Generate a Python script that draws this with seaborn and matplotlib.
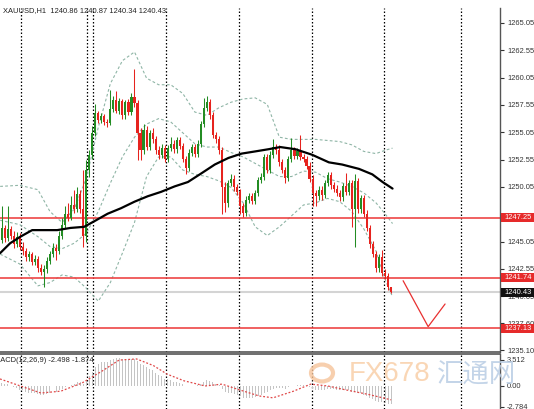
import numpy as np
import pandas as pd
import matplotlib
matplotlib.use("Agg")
import matplotlib.pyplot as plt
from matplotlib import font_manager as fm
from matplotlib.patches import Rectangle, Circle
import seaborn as sns

# XAUUSD H1 bars (oldest first)
opens = [1245.2, 1246.3, 1245.4, 1246.2, 1245.6, 1244.8, 1245.5, 1244.6, 1244.2, 1243.6,
         1243.9, 1243.2, 1243.5, 1242.6, 1242.3, 1242.5, 1243.3, 1243.9, 1244.5, 1244.2,
         1245.6, 1246.6, 1247.6, 1247.2, 1248.4, 1248.0, 1249.4, 1248.0, 1245.6, 1251.6,
         1253.0, 1255.0, 1256.8, 1256.2, 1256.5, 1256.0, 1255.9, 1257.2, 1258.0, 1257.0,
         1257.9, 1256.6, 1257.8, 1256.9, 1258.3, 1257.7, 1255.0, 1253.4, 1255.3, 1253.7,
         1255.0, 1254.4, 1253.4, 1253.0, 1253.6, 1252.6, 1253.6, 1254.0, 1253.5, 1254.3,
         1253.8, 1252.6, 1251.8, 1253.2, 1253.7, 1253.1, 1254.0, 1255.8, 1257.3, 1257.8,
         1256.6, 1254.8, 1254.4, 1253.4, 1250.0, 1248.6, 1250.4, 1250.8, 1250.0, 1249.6,
         1248.3, 1247.7, 1248.9, 1249.2, 1248.8, 1249.5, 1250.7, 1251.0, 1252.8, 1251.6,
         1253.0, 1253.7, 1253.4, 1252.3, 1251.6, 1250.9, 1252.6, 1253.4, 1252.9, 1253.3,
         1252.8, 1252.6, 1252.0, 1250.8, 1249.5, 1249.2, 1249.8, 1249.3, 1250.4, 1251.1,
         1250.2, 1249.9, 1249.5, 1249.1, 1250.1, 1249.6, 1250.4, 1248.0, 1250.6, 1248.0,
         1249.0, 1247.6, 1246.3, 1244.8, 1243.9, 1242.6, 1243.6, 1242.2, 1241.9, 1240.86]
highs = [1248.3, 1246.6, 1248.3, 1246.5, 1246.0, 1245.9, 1245.8, 1245.0, 1244.5, 1244.2,
         1244.1, 1243.8, 1243.7, 1243.0, 1242.9, 1243.6, 1244.2, 1244.9, 1244.8, 1246.0,
         1247.2, 1248.3, 1248.6, 1249.2, 1249.8, 1250.0, 1249.8, 1251.6, 1252.5, 1253.4,
         1255.6, 1257.6, 1257.0, 1256.8, 1256.7, 1256.3, 1258.9, 1258.4, 1258.8, 1258.2,
         1258.1, 1258.0, 1258.1, 1258.6, 1260.8, 1258.0, 1255.4, 1255.8, 1255.6, 1255.3,
         1255.4, 1254.7, 1253.8, 1254.0, 1253.9, 1253.9, 1254.6, 1254.3, 1254.6, 1254.6,
         1254.1, 1252.9, 1253.5, 1254.0, 1254.0, 1254.3, 1256.1, 1258.2, 1258.4, 1258.1,
         1256.9, 1255.1, 1254.7, 1253.7, 1250.5, 1250.7, 1251.2, 1251.1, 1250.3, 1249.9,
         1248.6, 1249.2, 1249.5, 1249.5, 1249.8, 1251.0, 1251.3, 1253.1, 1253.1, 1253.3,
         1254.4, 1254.0, 1253.9, 1252.6, 1251.9, 1252.9, 1254.5, 1253.7, 1253.6, 1254.8,
         1253.1, 1252.9, 1252.3, 1251.1, 1249.8, 1250.1, 1250.1, 1250.7, 1251.4, 1251.4,
         1250.5, 1250.2, 1249.8, 1250.4, 1251.3, 1250.7, 1250.7, 1251.2, 1250.9, 1249.3,
         1249.3, 1247.9, 1246.6, 1245.1, 1244.2, 1243.9, 1244.3, 1242.5, 1242.2, 1240.87]
lows = [1244.9, 1245.0, 1245.1, 1245.3, 1244.5, 1244.6, 1244.3, 1243.8, 1243.3, 1243.3,
        1242.9, 1242.9, 1242.3, 1242.0, 1240.9, 1242.2, 1243.0, 1243.6, 1243.4, 1243.9,
        1245.3, 1246.3, 1246.9, 1247.0, 1247.7, 1247.8, 1247.7, 1244.6, 1245.0, 1251.0,
        1252.6, 1254.7, 1255.9, 1255.9, 1255.7, 1255.5, 1255.7, 1256.9, 1256.8, 1256.7,
        1256.3, 1256.3, 1256.6, 1256.6, 1257.4, 1252.5, 1252.5, 1253.1, 1253.4, 1253.4,
        1254.1, 1253.1, 1252.6, 1252.7, 1252.3, 1252.3, 1253.3, 1253.2, 1253.2, 1253.5,
        1252.3, 1251.2, 1251.5, 1252.9, 1252.8, 1252.8, 1253.7, 1255.5, 1257.0, 1256.3,
        1254.5, 1254.1, 1253.1, 1247.6, 1247.8, 1248.2, 1250.1, 1249.7, 1249.3, 1247.6,
        1247.3, 1247.4, 1248.6, 1248.5, 1248.5, 1249.2, 1250.4, 1250.7, 1251.3, 1251.3,
        1252.7, 1253.1, 1252.0, 1251.3, 1250.4, 1250.6, 1252.3, 1252.6, 1252.6, 1252.5,
        1252.3, 1251.7, 1250.5, 1248.3, 1248.3, 1248.9, 1248.9, 1249.0, 1250.1, 1249.9,
        1249.6, 1249.2, 1248.8, 1248.8, 1249.3, 1249.3, 1246.4, 1244.6, 1247.7, 1247.7,
        1247.3, 1246.0, 1244.5, 1243.6, 1242.3, 1242.3, 1241.9, 1241.6, 1240.6, 1240.34]
closes = [1246.3, 1245.4, 1246.2, 1245.6, 1244.8, 1245.5, 1244.6, 1244.2, 1243.6, 1243.9,
          1243.2, 1243.5, 1242.6, 1242.3, 1242.5, 1243.3, 1243.9, 1244.5, 1244.2, 1245.6,
          1246.6, 1247.6, 1247.2, 1248.4, 1248.0, 1249.4, 1248.0, 1245.6, 1251.6, 1253.0,
          1255.0, 1256.8, 1256.2, 1256.5, 1256.0, 1255.9, 1257.2, 1258.0, 1257.0, 1257.9,
          1256.6, 1257.8, 1256.9, 1258.3, 1257.7, 1255.0, 1253.4, 1255.3, 1253.7, 1255.0,
          1254.4, 1253.4, 1253.0, 1253.6, 1252.6, 1253.6, 1254.0, 1253.5, 1254.3, 1253.8,
          1252.6, 1251.8, 1253.2, 1253.7, 1253.1, 1254.0, 1255.8, 1257.3, 1257.8, 1256.6,
          1254.8, 1254.4, 1253.4, 1250.0, 1248.6, 1250.4, 1250.8, 1250.0, 1249.6, 1248.3,
          1247.7, 1248.9, 1249.2, 1248.8, 1249.5, 1250.7, 1251.0, 1252.8, 1251.6, 1253.0,
          1253.7, 1253.4, 1252.3, 1251.6, 1250.9, 1252.6, 1253.4, 1252.9, 1253.3, 1252.8,
          1252.6, 1252.0, 1250.8, 1249.5, 1249.2, 1249.8, 1249.3, 1250.4, 1251.1, 1250.2,
          1249.9, 1249.5, 1249.1, 1250.1, 1249.6, 1250.4, 1248.0, 1250.6, 1248.0, 1249.0,
          1247.6, 1246.3, 1244.8, 1243.9, 1242.6, 1243.6, 1242.2, 1241.9, 1240.9, 1240.43]

# moving average (black line), sampled along the chart
ma_x = [-0.5, 2.8, 6.2, 10.1, 13.9, 18.4, 22.8, 27.3, 30.6, 35.1, 39.5, 44.0, 48.4, 52.8,
        57.3, 61.7, 66.2, 70.6, 75.1, 79.5, 84.0, 88.4, 92.3, 97.3, 102.8, 108.4, 112.8,
        118.4, 122.8, 126.2, 129.5]
ma_y = [1244.0, 1244.9, 1245.5, 1246.1, 1246.1, 1246.1, 1246.3, 1246.4, 1246.9, 1247.6,
        1248.1, 1248.7, 1249.2, 1249.6, 1250.1, 1250.5, 1251.3, 1252.1, 1252.7, 1253.1,
        1253.3, 1253.5, 1253.7, 1253.5, 1253.0, 1252.3, 1252.1, 1251.7, 1251.2, 1250.5, 1249.9]

# Bollinger bands, sampled
bb_x = [-0.5, 6, 12, 16, 20, 24, 28, 32, 36, 40, 44, 48, 52, 56, 60, 64, 68, 72, 76, 80,
        84, 88, 92, 96, 100, 104, 108, 112, 116, 120, 124, 127, 129.5]
bb_upper = [1250.1, 1250.2, 1249.8, 1247.8, 1246.8, 1248.0, 1250.8, 1255.5, 1259.5, 1261.6,
            1262.4, 1260.0, 1259.4, 1259.4, 1258.6, 1256.9, 1256.6, 1257.3, 1257.8, 1258.1,
            1258.2, 1257.6, 1254.6, 1254.4, 1254.4, 1254.4, 1254.3, 1254.2, 1253.9, 1253.3,
            1253.1, 1253.4, 1253.6]
bb_mid = [1247.0, 1246.6, 1245.5, 1244.6, 1244.4, 1244.9, 1245.8, 1247.8, 1250.4, 1252.8,
          1254.6, 1255.8, 1256.3, 1256.0, 1255.0, 1254.0, 1253.7, 1253.7, 1253.2, 1252.8,
          1252.2, 1251.6, 1251.0, 1251.0, 1251.5, 1251.4, 1250.8, 1250.5, 1250.1, 1249.5,
          1248.6, 1247.6, 1246.7]
bb_lower = [1243.9, 1243.0, 1241.0, 1241.3, 1242.0, 1241.8, 1240.8, 1239.6, 1241.3, 1244.0,
            1246.8, 1251.0, 1252.8, 1252.8, 1251.6, 1251.2, 1251.0, 1250.6, 1250.0, 1248.6,
            1246.4, 1245.6, 1246.4, 1247.4, 1248.4, 1248.6, 1249.0, 1248.7, 1247.8, 1246.2,
            1244.2, 1241.6, 1240.0]

levels = [1247.25, 1241.74, 1237.13]
last_price = 1240.43
separators = [6.4, 28.3, 30.3, 54.4, 78.6, 102.8, 126.7, 152.2]
price_ticks = [1265.05, 1262.55, 1260.05, 1257.55, 1255.05, 1252.55, 1250.05,
               1245.05, 1242.55, 1240.05, 1237.60, 1235.10]
path_x = [133.0, 141.3, 146.9]
path_y = [1241.47, 1237.27, 1239.34]

# MACD(12,26,9): main histogram per bar, signal sampled
macd_main = [0.4, 0.3, 0.2, 0.0, -0.2, -0.3, -0.5, -0.6, -0.8, -0.9,
             -1.0, -1.0, -1.1, -1.2, -1.2, -1.1, -1.0, -0.9, -0.8, -0.6,
             -0.4, -0.2, 0.0, 0.1, 0.3, 0.5, 0.5, 0.3, 0.8, 1.3,
             1.9, 2.6, 3.0, 3.2, 3.3, 3.3, 3.5, 3.7, 3.8, 3.8,
             3.7, 3.7, 3.6, 3.7, 3.7, 3.4, 3.0, 2.8, 2.5, 2.3,
             2.1, 1.8, 1.5, 1.3, 1.0, 0.9, 0.8, 0.6, 0.5, 0.4,
             0.2, 0.0, 0.0, 0.0, 0.0, 0.1, 0.3, 0.6, 0.8, 0.7,
             0.5, 0.3, 0.1, -0.4, -0.8, -0.9, -1.0, -1.1, -1.2, -1.4,
             -1.6, -1.6, -1.6, -1.6, -1.5, -1.3, -1.2, -0.9, -0.8, -0.6,
             -0.4, -0.3, -0.3, -0.3, -0.4, -0.2, 0.0, 0.0, 0.1, 0.1,
             0.1, 0.0, -0.2, -0.4, -0.5, -0.6, -0.6, -0.5, -0.4, -0.4,
             -0.4, -0.5, -0.6, -0.6, -0.6, -0.6, -0.8, -0.8, -0.9, -1.0,
             -1.2, -1.4, -1.6, -1.8, -2.0, -2.1, -2.2, -2.3, -2.4, -2.5]
sig_x = [-0.56, 6.2, 13.0, 19.6, 26.6, 33.2, 38.9, 44.7, 50.3, 54.8, 60.4, 67.4, 73.0,
         78.6, 85.3, 89.9, 96.7, 102.4, 108.0, 113.7, 121.6, 129.0]
sig_y = [0.95, 0.0, -0.95, -0.7, 0.4, 2.0, 3.5, 3.65, 2.75, 1.6, 0.7, 0.0, 0.25,
         -0.5, -1.35, -1.6, -0.7, 0.25, 0.0, -0.5, -1.15, -1.87]

W, H = 534, 409
bull, bear = "#238c23", "#e6231e"
band_col = "#8fb5a6"

sns.set_style("white")
avail = {f.name for f in fm.fontManager.ttflist}
if "Liberation Sans Narrow" in avail:
    ui_font, fs, big = "Liberation Sans Narrow", 6.2, 22
else:
    ui_font, fs, big = "Liberation Sans", 5.4, 20
plt.rcParams["font.family"] = [ui_font, "DejaVu Sans"]

fig = plt.figure(figsize=(W / 100, H / 100), dpi=100)
ax = fig.add_axes([0, 1 - 352 / H, 500 / W, (352 - 8) / H])
ax2 = fig.add_axes([0, 0, 500 / W, (409 - 354) / H])

df = pd.DataFrame({"open": opens, "high": highs, "low": lows, "close": closes})
df["bar"] = np.arange(len(df))
cols = np.where(df["close"] >= df["open"], bull, bear)

ax.vlines(df["bar"], df["low"], df["high"], colors=cols, lw=0.75, zorder=3)
body = (df["close"] - df["open"]).abs().clip(lower=0.08)
ax.bar(df["bar"], body, bottom=df[["open", "close"]].min(axis=1), width=0.7,
       color=cols, linewidth=0, zorder=3)

for band in (bb_upper, bb_mid, bb_lower):
    sns.lineplot(x=bb_x, y=band, ax=ax, color=band_col, lw=0.8,
                 linestyle=(0, (2.5, 2)), zorder=2)
sns.lineplot(x=ma_x, y=ma_y, ax=ax, color="black", lw=1.6, zorder=4)

for lv in levels:
    ax.axhline(lv, color="#ee4545", lw=1.2, zorder=2)
ax.axhline(last_price, color="#d4d4d4", lw=1.5, zorder=1)
ax.plot(path_x, path_y, color="#e83030", lw=0.9, zorder=3)

for a in (ax, ax2):
    for s in separators:
        a.axvline(s, color="black", lw=0.9, linestyle=(0, (1.2, 1.6)), zorder=1)
    a.set_xlim(-0.56, 165.1)
    a.set_xticks([])
    for sp in ("left", "top", "bottom"):
        a.spines[sp].set_visible(False)
    a.spines["right"].set_color("#555555")
    a.spines["right"].set_linewidth(1.0)
    a.yaxis.tick_right()
    a.tick_params(axis="y", length=3, width=0.8, pad=2, labelsize=fs,
                  colors="#333333", direction="out")
    a.set_xlabel("")
    a.set_ylabel("")

ax.set_ylim(1234.95, 1266.42)
ax.set_yticks(price_ticks)
ax.set_yticklabels([f"{t:.2f}" for t in price_ticks])
ax.spines["bottom"].set_visible(True)
ax.spines["bottom"].set_color("#555555")
ax.spines["bottom"].set_linewidth(1.2)

# price tags on the right axis
tr = ax.get_yaxis_transform()
tags = [(lv, "#e62a2a") for lv in levels] + [(last_price, "#111111")]
for lv, fc in tags:
    ax.add_patch(Rectangle((1.002, lv - 0.42), 0.07, 0.84, transform=tr, fc=fc,
                           ec="none", clip_on=False, zorder=6))
    ax.text(1.009, lv, f"{lv:.2f}", transform=tr, ha="left", va="center",
            color="white", fontsize=fs, zorder=7, clip_on=False)

fig.text(3 / W, 1 - 11 / H, "XAUUSD,H1  1240.86 1240.87 1240.34 1240.43",
         fontsize=fs, va="center", ha="left", color="#222222")

# MACD panel
ax2.bar(np.arange(len(macd_main)), macd_main, width=0.33, color="#c4c4c4",
        linewidth=0, zorder=2)
sns.lineplot(x=sig_x, y=sig_y, ax=ax2, color="#e04848", lw=0.9,
             linestyle=(0, (1.5, 1.5)), zorder=3)
ax2.set_ylim(-3.11, 4.32)
ax2.set_yticks([3.512, 0.0, -2.784])
ax2.set_yticklabels(["3.512", "0.00", "-2.784"])
ax2.spines["top"].set_visible(True)
ax2.spines["top"].set_color("#555555")
ax2.spines["top"].set_linewidth(1.2)
fig.text(-6 / W, 1 - 361 / H, "MACD(12,26,9) -2.498 -1.874", fontsize=fs,
         va="center", ha="left", color="#222222")

# watermark
fig.patches.append(Circle((322 / W, 1 - 373 / H), 11 / W, transform=fig.transFigure,
                          fill=False, ec="#f6c49a", lw=3, alpha=0.8))
fig.text(349 / W, 1 - 374 / H, "FX678", fontsize=big, color="#f9cfa8",
         va="center", ha="left", alpha=0.85)
fig.text(437 / W, 1 - 375 / H, "汇通网", fontsize=19, color="#b9cde4",
         va="center", ha="left", family=["Noto Sans CJK SC", "DejaVu Sans"], alpha=0.85)

fig.savefig("out.png", dpi=100)
